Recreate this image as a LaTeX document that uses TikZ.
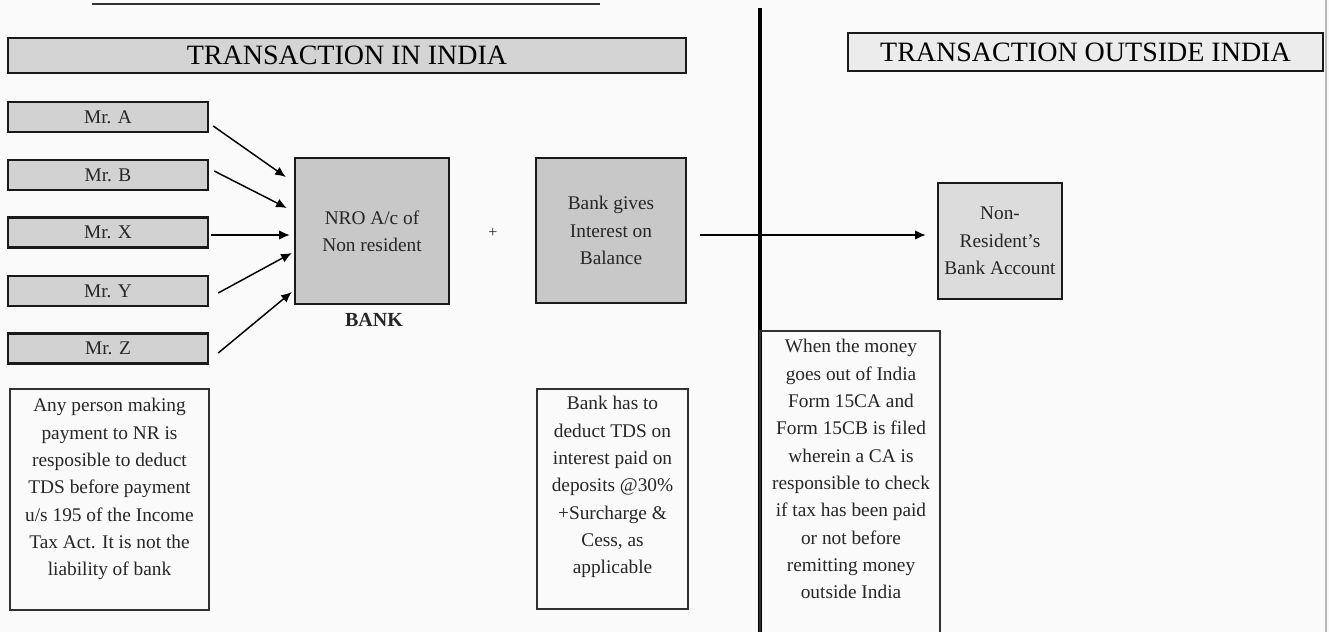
\documentclass[tikz,border=0pt]{standalone}
\usepackage{fontspec}
\setmainfont{Liberation Serif}
\usetikzlibrary{arrows.meta}
\definecolor{bgcol}{HTML}{FAFAFA}
\definecolor{hdrin}{HTML}{D4D4D4}
\definecolor{hdrout}{HTML}{ECECEC}
\definecolor{mrfill}{HTML}{D2D2D2}
\definecolor{bigfill}{HTML}{C8C8C8}
\definecolor{nrbfill}{HTML}{DCDCDC}
\definecolor{edge}{HTML}{1A1A1A}
\begin{document}
\begin{tikzpicture}[x=0.75pt,y=-0.75pt,
  every node/.style={font=\fontsize{14.5}{20.5}\selectfont, text=black!85},
  hdr/.style={draw=edge, line width=1.8pt, font=\fontsize{21}{24}\selectfont, text=black, inner sep=0pt},
  mrbox/.style={draw=edge, line width=1.8pt, fill=mrfill, minimum width=150pt, minimum height=22.5pt, inner sep=0pt},
  bigbox/.style={draw=edge, line width=1.8pt, fill=bigfill, align=center, inner sep=0pt},
  notebox/.style={draw=edge!90, line width=1.4pt, inner sep=0pt},
  notetext/.style={inner sep=0pt, align=center, anchor=north},
  arr/.style={draw=black, line width=1.1pt, -{Latex[length=8pt,width=7pt]}}
]
\useasboundingbox (0,0) rectangle (1329,632);
\clip (0,0) rectangle (1329,632);
\fill[bgcol] (0,0) rectangle (1329,632);

% cut-off title underline and page edge
\draw[line width=1.8pt, black!80] (92,4) -- (600,4);
\draw[line width=0.8pt, gray!55] (1326,0) -- (1326,632);

% divider
\coordinate (vtop) at (760,8);
\coordinate (vbot) at (760,640);
\draw[line width=2.4pt, black] (vtop) -- (vbot);

% headers
\node[hdr, fill=hdrin, minimum width=508.5pt, minimum height=26.25pt] (tin) at (347,55.5) {TRANSACTION IN INDIA};
\node[hdr, fill=hdrout, minimum width=356.25pt, minimum height=28.5pt] (tout) at (1085.5,52) {TRANSACTION OUTSIDE INDIA};

% payers
\node[mrbox] (ma) at (108,117) {Mr. A};
\node[mrbox] (mb) at (108,175) {Mr. B};
\node[mrbox] (mx) at (108,232.5) {Mr. X};
\node[mrbox] (my) at (108,291) {Mr. Y};
\node[mrbox] (mz) at (108,348.5) {Mr. Z};

% bank
\node[bigbox, minimum width=115.5pt, minimum height=109.5pt] (nro) at (372,231) {NRO A/c of\\Non resident};
\node[font=\bfseries\fontsize{15}{18}\selectfont] (bank) at (374,320) {BANK};
\node[font=\fontsize{12}{14}\selectfont] (plus) at (493,233) {+};
\node[bigbox, minimum width=112.5pt, minimum height=108.75pt] (gives) at (611,230.5) {Bank gives\\Interest on\\Balance};
\node[bigbox, fill=nrbfill, minimum width=93pt, minimum height=87pt] (nrb) at (1000,241) {Non-\\Resident's\\Bank Account};

% arrows into NRO account
\draw[arr] ([xshift=3pt,yshift=-6.75pt]ma.east) -- ([xshift=-6pt,yshift=40.5pt]nro.west);
\draw[arr] ([xshift=3.75pt,yshift=3pt]mb.east) -- ([xshift=-5.25pt,yshift=17.25pt]nro.west);
\draw[arr] ([xshift=1.5pt,yshift=-1.875pt]mx.east) -- ([xshift=-3pt,yshift=-3pt]nro.west);
\draw[arr] ([xshift=6.75pt,yshift=-1.5pt]my.east) -- ([xshift=-1.5pt,yshift=-16.5pt]nro.west);
\draw[arr] ([xshift=6.75pt,yshift=-3.375pt]mz.east) -- ([xshift=-1.5pt,yshift=-45.75pt]nro.west);

% remittance arrow
\draw[arr] ([xshift=9.75pt,yshift=-3.375pt]gives.east) -- ([xshift=-8.25pt,yshift=4.5pt]nrb.west);

% notes
\node[notebox, minimum width=149.25pt, minimum height=165.75pt] (note1) at (109.5,499.5) {};
\node[notetext] (note1t) at (109.5,398) {Any person making\\payment to NR is\\resposible to deduct\\TDS before payment\\u/s 195 of the Income\\Tax Act. It is not the\\liability of bank};

\node[notebox, minimum width=113.25pt, minimum height=165pt] (note2) at (612.5,499) {};
\node[notetext] (note2t) at (612.5,396) {Bank has to\\deduct TDS on\\interest paid on\\deposits @30\%\\+Surcharge \&\\Cess, as\\applicable};

\node[notebox, minimum width=135pt, minimum height=246.75pt] (note3) at (850,495.5) {};
\node[notetext] (note3t) at (851,339) {When the money\\goes out of India\\Form 15CA and\\Form 15CB is filed\\wherein a CA is\\responsible to check\\if tax has been paid\\or not before\\remitting money\\outside India};
\end{tikzpicture}
\end{document}
